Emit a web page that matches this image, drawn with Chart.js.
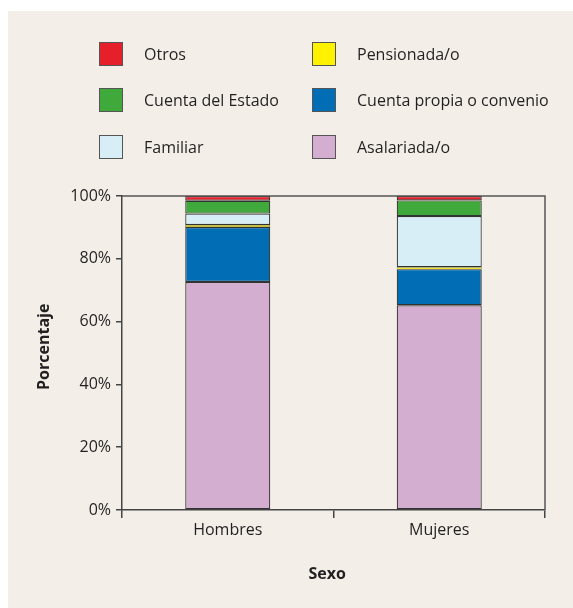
<!DOCTYPE html>
<html>
<head>
<script src="https://cdn.jsdelivr.net/npm/chart.js@4"></script>
<style>
  body { margin: 0; background: #fff; font-family: 'Open Sans', sans-serif; }
  #panel { position: absolute; left: 8px; top: 11px; width: 565px; height: 597px; background: #f3efe8; }
  #canvas { position: absolute; left: 0; top: 0; }
  .item { position: absolute; display: flex; align-items: center; font-size: 16px; color: #231f20; white-space: nowrap; }
  .box { width: 22px; height: 22px; border: 1px solid #555; margin-right: 21px; box-sizing: content-box; }
</style>
</head>
<body>
<div id="panel"></div>
<canvas id="canvas" width="573" height="608"></canvas>
<div id="legend"></div>
<script>
const categories = ['Hombres', 'Mujeres'];
const yTicks = [0, 20, 40, 60, 80, 100];

// porcentajes por tipo de afiliación (de abajo hacia arriba)
const asalariada = [72.6, 65.2];
const cuentaPropia = [17.5, 11.5];
const pensionada = [0.7, 0.6];
const familiar = [3.6, 16.3];
const cuentaEstado = [4.1, 5.0];
const otros = [1.5, 1.4];

const series = [
  { label: 'Asalariada/o', data: asalariada, color: '#d4aed0', bw: 1.2 },
  { label: 'Cuenta propia o convenio', data: cuentaPropia, color: '#006db5', bw: 1.2 },
  { label: 'Pensionada/o', data: pensionada, color: '#fff200', bw: 0.5 },
  { label: 'Familiar', data: familiar, color: '#d8eef6', bw: 1.2 },
  { label: 'Cuenta del Estado', data: cuentaEstado, color: '#40a93b', bw: 1.2 },
  { label: 'Otros', data: otros, color: '#e5202a', bw: 1.2 },
];

// orden de la leyenda: dos columnas, tres filas
const legendOrder = ['Otros', 'Pensionada/o', 'Cuenta del Estado', 'Cuenta propia o convenio', 'Familiar', 'Asalariada/o'];
const legendEl = document.getElementById('legend');
legendOrder.forEach((name, i) => {
  const s = series.find((d) => d.label === name);
  const el = document.createElement('div');
  el.className = 'item';
  el.style.left = [99, 312][i % 2] + 'px';
  el.style.top = [42, 88, 135][Math.floor(i / 2)] + 'px';
  el.innerHTML = '<div class="box" style="background:' + s.color + '"></div><span>' + name + '</span>';
  legendEl.appendChild(el);
});

const frame = {
  id: 'frame',
  afterDraw(c) {
    const { ctx, chartArea: a } = c;
    ctx.save();
    ctx.strokeStyle = '#555';
    ctx.lineWidth = 1.5;
    ctx.beginPath();
    ctx.moveTo(a.left, a.top);
    ctx.lineTo(a.right, a.top);
    ctx.lineTo(a.right, a.bottom);
    ctx.stroke();
    ctx.restore();
  },
};

Chart.defaults.font.family = "'Open Sans', sans-serif";
Chart.defaults.color = '#231f20';

new Chart(document.getElementById('canvas'), {
  type: 'bar',
  data: {
    labels: categories,
    datasets: series.map((s) => ({
      label: s.label,
      data: s.data,
      backgroundColor: s.color,
      borderColor: '#333',
      borderWidth: s.bw,
      borderSkipped: false,
      barPercentage: 0.402,
      categoryPercentage: 1,
    })),
  },
  plugins: [frame],
  options: {
    responsive: false,
    animation: false,
    layout: { padding: { top: 196, right: 28, left: 0, bottom: 0 } },
    plugins: { legend: { display: false }, tooltip: { enabled: false } },
    scales: {
      x: {
        stacked: true,
        afterFit: (s) => { s.height = 98; },
        grid: { drawOnChartArea: false, tickLength: 8, color: '#444', lineWidth: 1.5 },
        border: { display: true, color: '#444', width: 1.5 },
        ticks: { font: { size: 16 }, padding: 3 },
        title: { display: true, text: 'Sexo   ', font: { size: 16, weight: 'bold' }, padding: { top: 0, bottom: 24 } },
      },
      y: {
        stacked: true,
        min: 0,
        max: 100,
        afterFit: (s) => { s.width = 122; },
        afterBuildTicks: (s) => { s.ticks = yTicks.map((v) => ({ value: v })); },
        grid: { drawOnChartArea: false, tickLength: 6, color: '#444', lineWidth: 1.5 },
        border: { display: true, color: '#444', width: 1.5 },
        ticks: { font: { size: 16 }, padding: 5, callback: (v) => v + '%' },
        title: { display: true, text: '   Porcentaje', font: { size: 16, weight: 'bold' }, padding: { top: 35, bottom: 0 } },
      },
    },
  },
});
</script>
</body>
</html>
